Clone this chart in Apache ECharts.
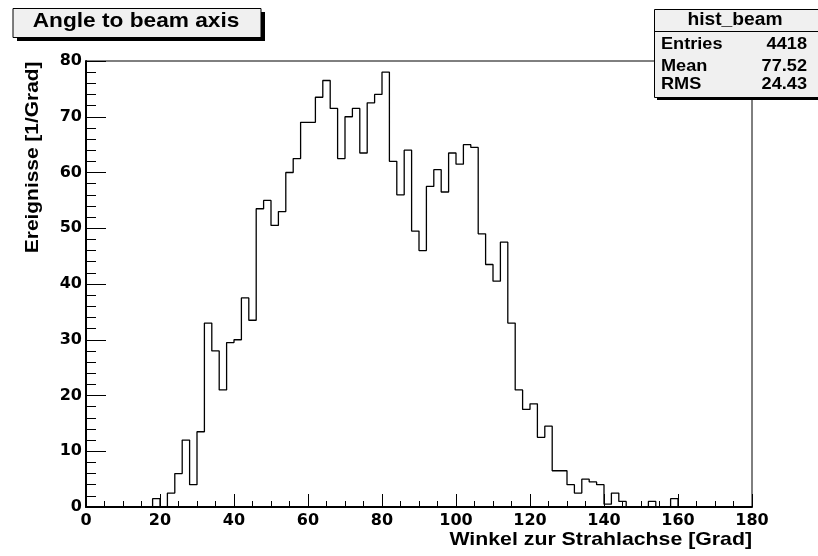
<!DOCTYPE html>
<html>
<head>
<meta charset="utf-8">
<script src="https://cdn.jsdelivr.net/npm/echarts@6/dist/echarts.min.js"></script>
<style>
html,body{margin:0;padding:0;background:#fff;}
#chart{width:818px;height:556px;}
</style>
</head>
<body>
<div id="chart"></div>
<script>
// Bin lower edges (degrees), bin width 2
const binLow = [0,2,4,6,8,10,12,14,16,18,20,22,24,26,28,30,32,34,36,38,40,42,44,46,48,50,52,54,56,58,
  60,62,64,66,68,70,72,74,76,78,80,82,84,86,88,90,92,94,96,98,100,102,104,106,108,110,112,114,116,118,
  120,122,124,126,128,130,132,134,136,138,140,142,144,146,148,150,152,154,156,158,160,162,164,166,168,170,172,174,176,178];
const binHighLast = 180;
// Events per degree
const counts = [0,0,0,0,0,0,0,0,0,1.5,0,2.5,6,12,4,13.5,33,28,21,29.5,
  30,37.5,33.5,53.5,55,50.5,53,60,62.5,69,69,73.5,76.5,71.5,62.5,70,71.5,63.5,72.5,74,
  78,62,56,64,49.5,46,57.5,60.5,56.5,63.5,61.5,65,64.5,49,43.5,40.5,47.5,33,21,17.5,
  18.5,12.5,14.5,6.5,6.5,4,2.5,5,4.5,4,0.5,2.5,1,0,0,0,1,0,0,1.5,
  0,0,0,0,0,0,0,0,0,0];

const titleText = 'Angle to beam axis';
const xTitle = 'Winkel zur Strahlachse [Grad]';
const yTitle = 'Ereignisse [1/Grad]';
const statsName = 'hist_beam';
const statsLabels = ['Entries','Mean','RMS'];
const statsValues = ['4418','77.52','24.43'];

const FONT = '"Liberation Sans", Arial, Helvetica, sans-serif';
const TICKFONT = '"DejaVu Sans", "Liberation Sans", sans-serif';

const stepData = binLow.map((x,i)=>[x,counts[i]]);
stepData.push([binHighLast, counts[counts.length-1]]);

const chart = echarts.init(document.getElementById('chart'), null, {renderer:'canvas'});

function txt(x, y, text, size, align, sx, rot){
  return {type:'text', x:x, y:y, scaleX:sx||1, rotation:rot||0,
    style:{text:text, font:'bold '+size+'px '+FONT, fill:'#000', textAlign:align, textVerticalAlign:'middle'}, z:12};
}

const graphics = [];
// title box
graphics.push({type:'rect', shape:{x:17,y:12,width:248,height:29}, style:{fill:'#000'}, z:10});
graphics.push({type:'rect', shape:{x:13,y:8.5,width:248,height:29}, style:{fill:'#f0f0f0',stroke:'#000',lineWidth:1}, z:11});
graphics.push(txt(136, 21.5, titleText, 21, 'center', 1.08));
// stats box
graphics.push({type:'rect', shape:{x:657,y:12,width:170,height:88}, style:{fill:'#000'}, z:10});
graphics.push({type:'rect', shape:{x:654.5,y:9.5,width:170,height:88}, style:{fill:'#f0f0f0',stroke:'#000',lineWidth:1}, z:11});
graphics.push({type:'line', shape:{x1:654.5,y1:31.5,x2:818,y2:31.5}, style:{stroke:'#000',lineWidth:1}, z:12});
graphics.push(txt(735, 20, statsName, 17.5, 'center', 1.1));
const rowY = [44, 66, 84];
statsLabels.forEach((l,i)=>{
  graphics.push(txt(661, rowY[i], l, 16.5, 'left', 1.1));
  graphics.push(txt(807, rowY[i], statsValues[i], 16.5, 'right', 1.1));
});
// axis titles
graphics.push(txt(752, 540, xTitle, 19, 'right', 1.12));
graphics.push(txt(33, 61.5, yTitle, 19, 'right', 1.1, Math.PI/2));

chart.setOption({
  animation:false,
  backgroundColor:'#fff',
  grid:{left:86, top:61, right:66, bottom:49, show:true, borderColor:'#000', borderWidth:1, backgroundColor:'transparent'},
  xAxis:{
    type:'value', min:0, max:180, interval:20,
    axisLine:{show:true, onZero:false, lineStyle:{color:'#000', width:2}},
    axisTick:{show:true, inside:true, length:13, lineStyle:{color:'#000', width:1}},
    minorTick:{show:true, splitNumber:4, length:6, lineStyle:{color:'#000', width:1}},
    splitLine:{show:false},
    axisLabel:{show:true, margin:6, color:'#000', fontFamily:TICKFONT, fontWeight:'bold', fontSize:16, showMinLabel:true, showMaxLabel:true}
  },
  yAxis:{
    type:'value', min:0, max:80, interval:10,
    axisLine:{show:true, onZero:false, lineStyle:{color:'#000', width:2}},
    axisTick:{show:true, inside:true, length:20, lineStyle:{color:'#000', width:1}},
    minorTick:{show:true, splitNumber:5, length:10, lineStyle:{color:'#000', width:1}},
    splitLine:{show:false},
    axisLabel:{show:true, margin:4, color:'#000', fontFamily:TICKFONT, fontWeight:'bold', fontSize:16}
  },
  series:[{
    type:'line', step:'end', data:stepData, symbol:'none', silent:true,
    lineStyle:{color:'#000', width:1.3}, z:5
  }],
  graphic:graphics
});
</script>
</body>
</html>
